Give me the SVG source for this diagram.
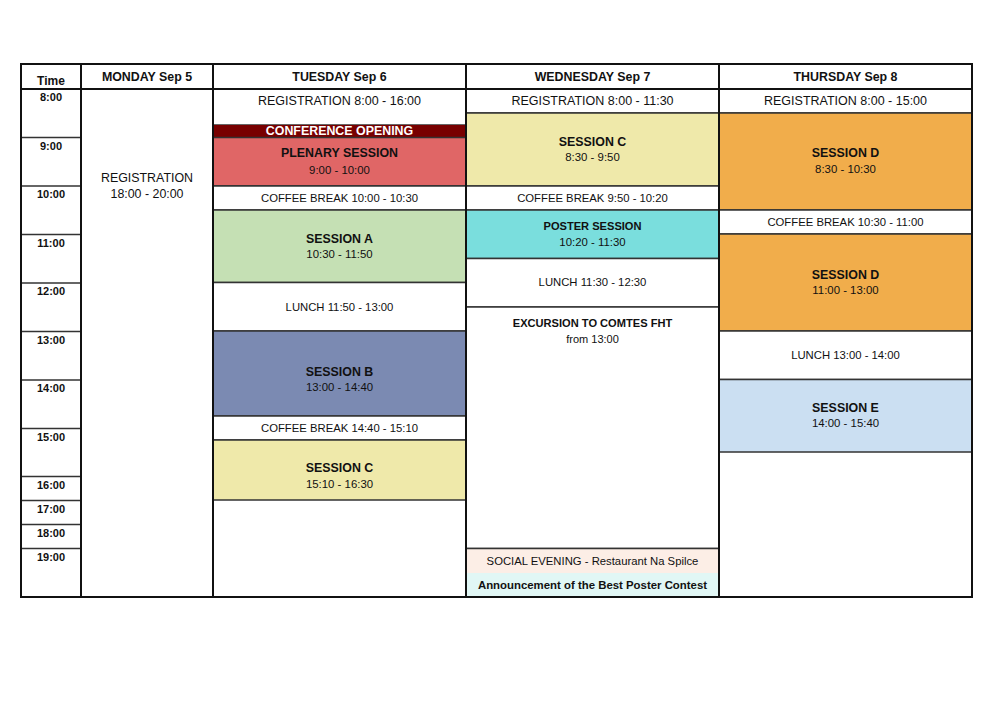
<svg xmlns="http://www.w3.org/2000/svg" width="1000" height="706" viewBox="0 0 1000 706">
<style>
text{font-family:"Liberation Sans",Arial,sans-serif;fill:#111;text-anchor:middle}
.h{font-weight:bold;font-size:12.4px}
.tl{font-weight:bold;font-size:11px}
.b{font-weight:bold;font-size:12.4px}
.bs{font-weight:bold;font-size:11.1px}
.r{font-size:12.5px}
.t{font-size:11.4px}
.s{font-size:11.3px}
.cell{stroke:#333;stroke-width:1.5}
.grid{stroke:#111;stroke-width:2;fill:none}
.thin{stroke:#333;stroke-width:1.5}
</style>
<rect width="1000" height="706" fill="#fff"/>

<g id="header">
<text class="h" x="51" y="85" style="font-size:12px">Time</text>
<text class="h" x="147" y="80.5">MONDAY Sep 5</text>
<text class="h" x="339.5" y="80.5">TUESDAY Sep 6</text>
<text class="h" x="592.5" y="80.5">WEDNESDAY Sep 7</text>
<text class="h" x="845.5" y="80.5">THURSDAY Sep 8</text>
</g>

<g id="time-column">
<line class="thin" x1="21" y1="137.5" x2="81" y2="137.5"/>
<line class="thin" x1="21" y1="186" x2="81" y2="186"/>
<line class="thin" x1="21" y1="234.5" x2="81" y2="234.5"/>
<line class="thin" x1="21" y1="283" x2="81" y2="283"/>
<line class="thin" x1="21" y1="331.5" x2="81" y2="331.5"/>
<line class="thin" x1="21" y1="380" x2="81" y2="380"/>
<line class="thin" x1="21" y1="428.5" x2="81" y2="428.5"/>
<line class="thin" x1="21" y1="476.5" x2="81" y2="476.5"/>
<line class="thin" x1="21" y1="500.5" x2="81" y2="500.5"/>
<line class="thin" x1="21" y1="524.5" x2="81" y2="524.5"/>
<line class="thin" x1="21" y1="548.5" x2="81" y2="548.5"/>
<text class="tl" x="51" y="101">8:00</text>
<text class="tl" x="51" y="149.5">9:00</text>
<text class="tl" x="51" y="198">10:00</text>
<text class="tl" x="51" y="246.5">11:00</text>
<text class="tl" x="51" y="295">12:00</text>
<text class="tl" x="51" y="343.5">13:00</text>
<text class="tl" x="51" y="392">14:00</text>
<text class="tl" x="51" y="440.5">15:00</text>
<text class="tl" x="51" y="488.5">16:00</text>
<text class="tl" x="51" y="512.5">17:00</text>
<text class="tl" x="51" y="536.5">18:00</text>
<text class="tl" x="51" y="560.5">19:00</text>
</g>

<g id="mon-registration">
<text class="r" x="147" y="181.5" style="font-size:12.4px">REGISTRATION</text>
<text class="r" x="147" y="198" style="font-size:12.4px">18:00 - 20:00</text>
</g>

<!-- Tuesday -->
<g id="tue-registration">
<rect class="cell" x="213" y="89" width="253" height="36" fill="#fff"/>
<text class="r" x="339.5" y="105">REGISTRATION 8:00 - 16:00</text>
</g>
<g id="tue-opening">
<rect x="213" y="125" width="253" height="12.5" fill="#780000"/>
<text class="b" x="339.5" y="135" style="fill:#fff">CONFERENCE OPENING</text>
</g>
<g id="tue-plenary">
<rect class="cell" x="213" y="137.5" width="253" height="48.5" fill="#E06666" stroke="none"/>
<line class="thin" x1="213" y1="186" x2="466" y2="186"/>
<text class="b" x="339.5" y="157">PLENARY SESSION</text>
<text class="t" x="339.5" y="173.5">9:00 - 10:00</text>
</g>
<g id="tue-coffee1">
<rect class="cell" x="213" y="186" width="253" height="24" fill="#fff"/>
<text class="s" x="339.5" y="202">COFFEE BREAK 10:00 - 10:30</text>
</g>
<g id="tue-session-a">
<rect class="cell" x="213" y="210" width="253" height="72.5" fill="#C5E0B4"/>
<text class="b" x="339.5" y="242.5">SESSION A</text>
<text class="t" x="339.5" y="258">10:30 - 11:50</text>
</g>
<g id="tue-lunch">
<rect class="cell" x="213" y="282.5" width="253" height="48.5" fill="#fff"/>
<text class="s" x="339.5" y="311">LUNCH 11:50 - 13:00</text>
</g>
<g id="tue-session-b">
<rect class="cell" x="213" y="331" width="253" height="85" fill="#7B8AB2"/>
<text class="b" x="339.5" y="375.5">SESSION B</text>
<text class="t" x="339.5" y="391">13:00 - 14:40</text>
</g>
<g id="tue-coffee2">
<rect class="cell" x="213" y="416" width="253" height="24" fill="#fff"/>
<text class="s" x="339.5" y="432">COFFEE BREAK 14:40 - 15:10</text>
</g>
<g id="tue-session-c">
<rect class="cell" x="213" y="440" width="253" height="60" fill="#EFE9AA"/>
<text class="b" x="339.5" y="472">SESSION C</text>
<text class="t" x="339.5" y="487.5">15:10 - 16:30</text>
</g>

<!-- Wednesday -->
<g id="wed-registration">
<rect class="cell" x="466" y="89" width="253" height="24" fill="#fff"/>
<text class="r" x="592.5" y="105">REGISTRATION 8:00 - 11:30</text>
</g>
<g id="wed-session-c">
<rect class="cell" x="466" y="113" width="253" height="73" fill="#EFE9AA"/>
<text class="b" x="592.5" y="145.5">SESSION C</text>
<text class="t" x="592.5" y="161">8:30 - 9:50</text>
</g>
<g id="wed-coffee">
<rect class="cell" x="466" y="186" width="253" height="24" fill="#fff"/>
<text class="s" x="592.5" y="202">COFFEE BREAK 9:50 - 10:20</text>
</g>
<g id="wed-poster">
<rect class="cell" x="466" y="210" width="253" height="48.5" fill="#7ADEDD"/>
<text class="bs" x="592.5" y="230">POSTER SESSION</text>
<text class="t" x="592.5" y="246">10:20 - 11:30</text>
</g>
<g id="wed-lunch">
<rect class="cell" x="466" y="258.5" width="253" height="48.5" fill="#fff"/>
<text class="s" x="592.5" y="286">LUNCH 11:30 - 12:30</text>
</g>
<g id="wed-excursion">
<rect class="cell" x="466" y="307" width="253" height="241.5" fill="#fff"/>
<text class="bs" x="592.5" y="327">EXCURSION TO COMTES FHT</text>
<text class="t" x="592.5" y="342.5" style="font-size:11px">from 13:00</text>
</g>
<g id="wed-social">
<rect x="466" y="548.5" width="253" height="24.5" fill="#FCEEE6"/>
<line class="thin" x1="466" y1="548.5" x2="719" y2="548.5"/>
<text class="s" x="592.5" y="565">SOCIAL EVENING - Restaurant Na Spilce</text>
</g>
<g id="wed-announcement">
<rect x="466" y="573" width="253" height="24" fill="#E1F7F5"/>
<text class="bs" x="592.5" y="589" style="font-size:11.4px">Announcement of the Best Poster Contest</text>
</g>

<!-- Thursday -->
<g id="thu-registration">
<rect class="cell" x="719" y="89" width="253" height="24" fill="#fff"/>
<text class="r" x="845.5" y="105">REGISTRATION 8:00 - 15:00</text>
</g>
<g id="thu-session-d1">
<rect class="cell" x="719" y="113" width="253" height="97" fill="#F1AD4B"/>
<text class="b" x="845.5" y="157">SESSION D</text>
<text class="t" x="845.5" y="173">8:30 - 10:30</text>
</g>
<g id="thu-coffee">
<rect class="cell" x="719" y="210" width="253" height="24" fill="#fff"/>
<text class="s" x="845.5" y="226">COFFEE BREAK 10:30 - 11:00</text>
</g>
<g id="thu-session-d2">
<rect class="cell" x="719" y="234" width="253" height="97" fill="#F1AD4B"/>
<text class="b" x="845.5" y="278.5">SESSION D</text>
<text class="t" x="845.5" y="294">11:00 - 13:00</text>
</g>
<g id="thu-lunch">
<rect class="cell" x="719" y="331" width="253" height="48.5" fill="#fff"/>
<text class="s" x="845.5" y="359">LUNCH 13:00 - 14:00</text>
</g>
<g id="thu-session-e">
<rect class="cell" x="719" y="379.5" width="253" height="72.5" fill="#CBDFF2"/>
<text class="b" x="845.5" y="411.5">SESSION E</text>
<text class="t" x="845.5" y="427">14:00 - 15:40</text>
</g>

<g id="grid">
<rect class="grid" x="21" y="64" width="951" height="533"/>
<line class="grid" x1="21" y1="89" x2="972" y2="89"/>
<line class="grid" x1="81" y1="64" x2="81" y2="597"/>
<line class="grid" x1="213" y1="64" x2="213" y2="597"/>
<line class="grid" x1="466" y1="64" x2="466" y2="597"/>
<line class="grid" x1="719" y1="64" x2="719" y2="597"/>
</g>
</svg>
